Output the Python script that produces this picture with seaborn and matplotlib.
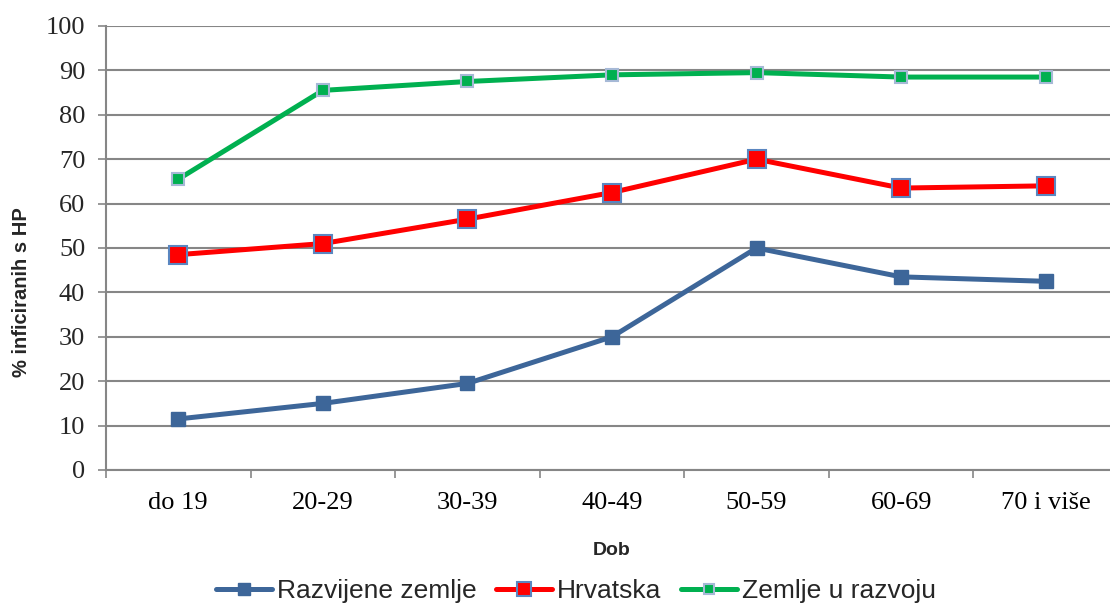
import matplotlib
matplotlib.use("Agg")
import matplotlib.pyplot as plt
import seaborn as sns
import pandas as pd
from matplotlib.lines import Line2D

categories = ["do 19", "20-29", "30-39", "40-49", "50-59", "60-69", "70 i više"]
razvijene = [11.5, 15, 19.5, 30, 50, 43.5, 42.5]
hrvatska = [48.5, 51, 56.5, 62.5, 70, 63.5, 64]
u_razvoju = [65.5, 85.5, 87.5, 89, 89.5, 88.5, 88.5]
series_names = ["Razvijene zemlje", "Hrvatska", "Zemlje u razvoju"]

sns.set_theme(style="white")
plt.rcParams['font.family'] = ['Liberation Serif', 'DejaVu Serif']

fig = plt.figure(figsize=(11.1, 6.06), dpi=100)
ax = fig.add_axes([106/1110, 1 - 470/606, (1118-106)/1110, (470-26)/606])

styles = {
    "Razvijene zemlje": dict(color="#3D6699", mec="#3D6699", ms=10, mew=1.0, lw=3.6),
    "Hrvatska": dict(color="#FF0000", mec="#5A86C0", ms=12.5, mew=1.5, lw=3.6),
    "Zemlje u razvoju": dict(color="#00B050", mec="#A6B9D6", ms=8.5, mew=1.5, lw=3.6),
}
data = {"Razvijene zemlje": razvijene, "Hrvatska": hrvatska, "Zemlje u razvoju": u_razvoju}

ax.yaxis.grid(True, color="#868686", lw=1.5)
ax.set_axisbelow(True)

xpos = list(range(len(categories)))
for name in series_names:
    st = styles[name]
    df = pd.DataFrame({"x": xpos, "y": data[name]})
    sns.lineplot(data=df, x="x", y="y", ax=ax, color=st["color"], lw=st["lw"],
                 marker="s", markersize=st["ms"], markeredgecolor=st["mec"],
                 markeredgewidth=st["mew"], zorder=3)

ax.set_xlim(-0.5, len(categories) - 0.5)
ax.set_ylim(0, 100)
ax.set_yticks(range(0, 101, 10))
ax.set_xticks([i - 0.5 for i in range(len(categories) + 1)])
ax.set_xticklabels([""] * (len(categories) + 1))
ax.set_xticks(xpos, minor=True)
ax.set_xticklabels(categories, minor=True)
ax.tick_params(axis="x", which="major", length=6, width=1.2, color="#868686", direction="out", bottom=True)
ax.tick_params(axis="x", which="minor", length=0, labelsize=19, pad=16, colors="black", bottom=True)
ax.tick_params(axis="y", length=6, width=1.2, color="#868686", direction="out", labelsize=19, pad=9, left=True)

for s in ["top", "right"]:
    ax.spines[s].set_visible(False)
for s in ["left", "bottom"]:
    ax.spines[s].set_color("#868686")
    ax.spines[s].set_linewidth(1.5)

ax.set_xlabel("Dob", fontsize=14, fontweight="bold", family="Liberation Sans", labelpad=20)
ax.set_ylabel("% inficiranih s HP", fontsize=14.5, fontweight="bold", family="Liberation Sans")
ax.yaxis.set_label_coords((31 - 106) / 1012, (470 - 292) / 444)

handles = [Line2D([], [], color=styles[n]["color"], lw=styles[n]["lw"], marker="s",
                  markersize=styles[n]["ms"] * 0.8, markeredgecolor=styles[n]["mec"],
                  markeredgewidth=styles[n]["mew"]) for n in series_names]
fig.legend(handles, series_names, loc="center", bbox_to_anchor=(576/1110, 1 - 591/606),
           ncol=3, frameon=False, prop={"family": "Liberation Sans", "size": 19},
           handlelength=2.1, handletextpad=0.2, columnspacing=0.75)

fig.savefig("out.png", dpi=100)
